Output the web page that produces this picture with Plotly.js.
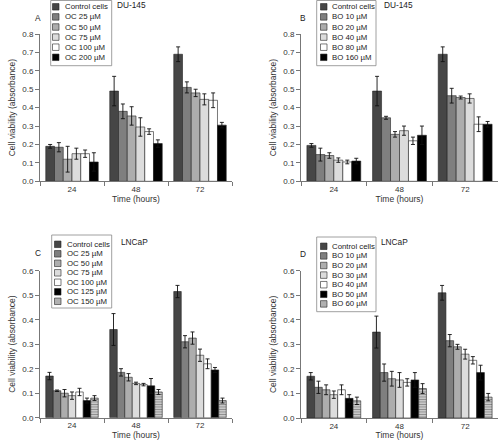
<!DOCTYPE html>
<html><head><meta charset="utf-8">
<script src="https://cdn.plot.ly/plotly-3.0.1.min.js"></script>
<style>html,body{margin:0;padding:0;background:#fff}#chart{width:499px;height:440px}</style>
</head><body><div id="chart"></div>
<script>
// ---- data ----
const timepoints = ['24', '48', '72'];

const namesA = ['Control cells', 'OC 25 µM', 'OC 50 µM', 'OC 75 µM', 'OC 100 µM', 'OC 200 µM'];
const meansA = [[0.19, 0.49, 0.69], [0.185, 0.38, 0.51], [0.12, 0.355, 0.48], [0.15, 0.295, 0.445], [0.15, 0.27, 0.44], [0.105, 0.205, 0.305]];
const errA   = [[0.01, 0.08, 0.04], [0.025, 0.04, 0.03], [0.07, 0.05, 0.02], [0.03, 0.05, 0.03], [0.02, 0.015, 0.04], [0.05, 0.02, 0.015]];

const namesB = ['Control cells', 'BO 10 µM', 'BO 20 µM', 'BO 40 µM', 'BO 80 µM', 'BO 160 µM'];
const meansB = [[0.195, 0.49, 0.69], [0.145, 0.345, 0.465], [0.14, 0.255, 0.455], [0.115, 0.275, 0.45], [0.105, 0.22, 0.31], [0.11, 0.25, 0.31]];
const errB   = [[0.01, 0.08, 0.04], [0.035, 0.008, 0.04], [0.015, 0.015, 0.008], [0.012, 0.025, 0.025], [0.01, 0.02, 0.04], [0.015, 0.05, 0.015]];

const namesC = ['Control cells', 'OC 25 µM', 'OC 50 µM', 'OC 75 µM', 'OC 100 µM', 'OC 125 µM', 'OC 150 µM'];
const meansC = [[0.17, 0.36, 0.515], [0.11, 0.185, 0.31], [0.1, 0.165, 0.325], [0.09, 0.14, 0.255], [0.105, 0.135, 0.22], [0.07, 0.13, 0.195], [0.08, 0.105, 0.07]];
const errC   = [[0.015, 0.065, 0.025], [0.003, 0.015, 0.025], [0.015, 0.015, 0.025], [0.015, 0.005, 0.025], [0.015, 0.005, 0.02], [0.01, 0.03, 0.01], [0.01, 0.01, 0.01]];

const namesD = ['Control cells', 'BO 10 µM', 'BO 20 µM', 'BO 30 µM', 'BO 40 µM', 'BO 50 µM', 'BO 60 µM'];
const meansD = [[0.17, 0.35, 0.51], [0.125, 0.185, 0.315], [0.115, 0.16, 0.29], [0.095, 0.155, 0.26], [0.115, 0.145, 0.235], [0.08, 0.155, 0.185], [0.07, 0.12, 0.085]];
const errD   = [[0.015, 0.065, 0.03], [0.025, 0.035, 0.025], [0.02, 0.03, 0.01], [0.015, 0.03, 0.02], [0.02, 0.015, 0.015], [0.015, 0.03, 0.03], [0.015, 0.02, 0.015]];

const cellLines = ['DU-145', 'DU-145', 'LNCaP', 'LNCaP'];
const panelLetters = ['A', 'B', 'C', 'D'];

// ---- styling ----
const W = 499, H = 440;
const FONT = 'Liberation Sans, Arial, sans-serif';
const fills6 = ['#464646', '#7f7f7f', '#adadad', '#dcdcdc', '#ffffff', '#000000'];
const fills7 = ['#464646', '#7f7f7f', '#adadad', '#dcdcdc', '#ffffff', '#000000', 'stripe'];

const panels = [
  {names: namesA, means: meansA, errs: errA, fills: fills6, xa: 'x', ya: 'y', dx: [40, 232], dy: [34, 181.3], ymax: 0.8,
   leg: {x0: 50.7, x1: 111.7, y0: 0.5, y1: 65.7, row0: 6.8, dy: 10.1, sw: 52.5, tx: 63}, title: {x: 131, y: 5}, letter: {x: 38, y: 18}},
  {names: namesB, means: meansB, errs: errB, fills: fills6, xa: 'x2', ya: 'y2', dx: [301, 498], dy: [34, 181.3], ymax: 0.8,
   leg: {x0: 316.7, x1: 376, y0: 0.5, y1: 65.7, row0: 6.8, dy: 10.1, sw: 320.5, tx: 329.5}, title: {x: 398, y: 5}, letter: {x: 303, y: 18}},
  {names: namesC, means: meansC, errs: errC, fills: fills7, xa: 'x3', ya: 'y3', dx: [40, 232], dy: [270.7, 417.7], ymax: 0.6,
   leg: {x0: 51.7, x1: 111.7, y0: 235, y1: 308, row0: 244.3, dy: 9.5, sw: 54.5, tx: 64.5}, title: {x: 134, y: 242}, letter: {x: 38, y: 253}},
  {names: namesD, means: meansD, errs: errD, fills: fills7, xa: 'x4', ya: 'y4', dx: [301, 498], dy: [270.7, 418], ymax: 0.6,
   leg: {x0: 316.7, x1: 376, y0: 237, y1: 311.7, row0: 246.3, dy: 9.6, sw: 320.5, tx: 329.5}, title: {x: 394, y: 242}, letter: {x: 303, y: 254}}
];

const px = v => v / W;
const py = v => 1 - v / H;

const traces = [];
const shapes = [];
const annotations = [];
const layout = {
  width: W, height: H,
  margin: {l: 0, r: 0, t: 0, b: 0},
  paper_bgcolor: '#fff', plot_bgcolor: '#fff',
  font: {family: FONT, size: 8, color: '#333'},
  barmode: 'group', bargap: 0.18, bargroupgap: 0,
  showlegend: false
};

panels.forEach((p, pi) => {
  p.names.forEach((nm, si) => {
    const f = p.fills[si];
    const marker = {line: {color: '#222', width: 0.6}};
    if (f === 'stripe') {
      marker.color = '#8c8c8c';
      marker.pattern = {shape: '-', bgcolor: '#d6d6d6', fgcolor: '#8c8c8c', size: 2.5, solidity: 0.45};
    } else {
      marker.color = f;
    }
    traces.push({
      type: 'bar', name: nm, x: timepoints, y: p.means[si],
      xaxis: p.xa, yaxis: p.ya, marker: marker,
      error_y: {type: 'data', array: p.errs[si], visible: true, color: '#111', thickness: 0.9, width: 2},
      hoverinfo: 'x+y+name'
    });
    // legend entries
    const cy = p.leg.row0 + si * p.leg.dy;
    const s = 6.5;
    shapes.push({type: 'rect', xref: 'paper', yref: 'paper',
      x0: px(p.leg.sw), x1: px(p.leg.sw + s), y0: py(cy + s / 2), y1: py(cy - s / 2),
      fillcolor: f === 'stripe' ? '#b0b0b0' : f, line: {color: '#222', width: 0.6}});
    annotations.push({xref: 'paper', yref: 'paper', x: px(p.leg.tx), y: py(cy), xanchor: 'left', yanchor: 'middle',
      text: nm, showarrow: false, font: {family: FONT, size: 7.8, color: '#222'}});
  });
  // legend frame
  shapes.push({type: 'rect', xref: 'paper', yref: 'paper', layer: 'below',
    x0: px(p.leg.x0), x1: px(p.leg.x1), y0: py(p.leg.y1), y1: py(p.leg.y0),
    fillcolor: 'rgba(255,255,255,0)', line: {color: '#888', width: 0.8}});
  // cell line title and letter
  annotations.push({xref: 'paper', yref: 'paper', x: px(p.title.x), y: py(p.title.y), xanchor: 'center', yanchor: 'middle',
    text: cellLines[pi], showarrow: false, font: {family: FONT, size: 8.3, color: '#222'}});
  annotations.push({xref: 'paper', yref: 'paper', x: px(p.letter.x), y: py(p.letter.y), xanchor: 'center', yanchor: 'middle',
    text: panelLetters[pi], showarrow: false, font: {family: FONT, size: 8.3, color: '#222'}});

  const xk = 'xaxis' + (pi === 0 ? '' : pi + 1);
  const yk = 'yaxis' + (pi === 0 ? '' : pi + 1);
  layout[xk] = {
    domain: [px(p.dx[0]), px(p.dx[1])], anchor: p.ya, type: 'category',
    showline: true, linecolor: '#777', linewidth: 1, ticks: 'outside', tickson: 'boundaries',
    ticklen: 4, tickcolor: '#777', tickwidth: 1, showgrid: false, zeroline: false,
    tickfont: {family: FONT, size: 8, color: '#333'},
    title: {text: 'Time (hours)', font: {family: FONT, size: 8.5, color: '#333'}, standoff: 2}
  };
  layout[yk] = {
    domain: [py(p.dy[1]), py(p.dy[0])], anchor: p.xa, range: [0, p.ymax],
    dtick: 0.1, tick0: 0, tickformat: '.1f',
    showline: true, linecolor: '#777', linewidth: 1, ticks: 'outside', ticklen: 4, tickcolor: '#777', tickwidth: 1,
    showgrid: false, zeroline: false,
    tickfont: {family: FONT, size: 8, color: '#333'},
    title: {text: 'Cell viability (absorbance)', font: {family: FONT, size: 8.5, color: '#333'}, standoff: 5}
  };
});

layout.shapes = shapes;
layout.annotations = annotations;

Plotly.newPlot('chart', traces, layout, {displayModeBar: false, staticPlot: false});
</script></body></html>
